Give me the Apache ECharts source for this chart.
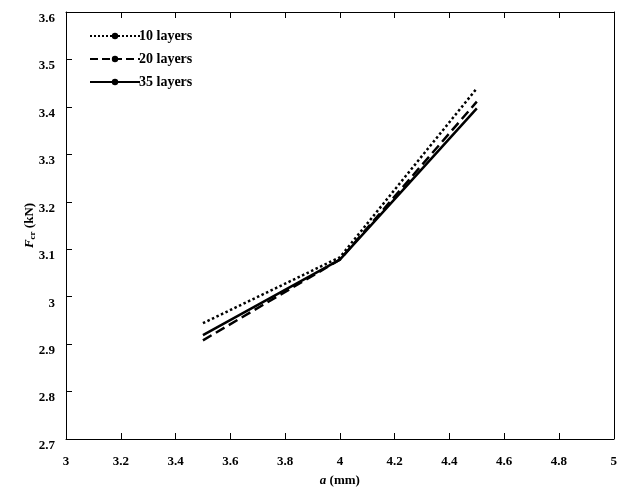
<!DOCTYPE html>
<html><head><meta charset="utf-8">
<script src="https://cdn.jsdelivr.net/npm/echarts@6/dist/echarts.min.js"></script>
<style>html,body{margin:0;padding:0;background:#fff}#c{width:620px;height:492px}</style>
</head><body><div id="c"></div>
<script>
const xValues = [3.5, 4, 4.5];
const s10 = [2.944, 3.083, 3.439];
const s20 = [2.908, 3.078, 3.411];
const s35 = [2.919, 3.078, 3.397];
const seriesNames = ['10 layers', '20 layers', '35 layers'];
const lineTypes = ['dotted', 'dashed', 'solid'];
const allSeries = [s10, s20, s35];

const font = '"Liberation Serif","Times New Roman",serif';
const chart = echarts.init(document.getElementById('c'), null, {renderer: 'canvas'});
const axisLine = {show: true, lineStyle: {color: '#000', width: 1}};
chart.setOption({
  animation: false,
  backgroundColor: '#fff',
  grid: {left: 66, right: 5, top: 12, bottom: 51},
  legend: {
    left: 84, top: 24, orient: 'vertical', itemGap: 9, itemWidth: 50, itemHeight: 8,
    textStyle: {fontFamily: font, fontWeight: 'bold', fontSize: 14, color: '#000', padding: [0,0,0,-6]},
    data: seriesNames
  },
  xAxis: [{
    type: 'value', min: 3, max: 5, interval: 0.2,
    axisLine: axisLine, splitLine: {show: false},
    axisTick: {inside: true, length: 6, lineStyle: {color: '#000'}},
    axisLabel: {fontFamily: font, fontWeight: 'bold', fontSize: 13, color: '#000', margin: 16,
      formatter: v => +v.toFixed(1) + ''},
    name: '{i|a} (mm)', nameLocation: 'middle', nameGap: 35, nameMoveOverlap: false,
    nameTextStyle: {fontFamily: font, fontWeight: 'bold', fontSize: 13, color: '#000',
      rich: {i: {fontFamily: font, fontStyle: 'italic', fontWeight: 'bold', fontSize: 13, color: '#000'}}}
  }, {
    type: 'value', position: 'top', min: 3, max: 5, interval: 0.2,
    axisLine: axisLine, splitLine: {show: false},
    axisTick: {inside: true, length: 6, lineStyle: {color: '#000'}},
    axisLabel: {show: false}
  }],
  yAxis: [{
    type: 'value', min: 2.7, max: 3.6, interval: 0.1,
    axisLine: axisLine, splitLine: {show: false},
    axisTick: {inside: true, length: 6, lineStyle: {color: '#000'}},
    axisLabel: {fontFamily: font, fontWeight: 'bold', fontSize: 13, color: '#000', margin: 11,
      verticalAlign: 'top', formatter: v => +v.toFixed(1) + ''},
    name: '{i|F}{s|cr} (kN)', nameLocation: 'middle', nameGap: 36, nameRotate: 90, nameMoveOverlap: false,
    nameTextStyle: {fontFamily: font, fontWeight: 'bold', fontSize: 13, color: '#000',
      align: 'center', verticalAlign: 'middle',
      rich: {i: {fontFamily: font, fontStyle: 'italic', fontWeight: 'bold', fontSize: 13, color: '#000'},
             s: {fontFamily: font, fontWeight: 'bold', fontSize: 9, color: '#000', padding: [5,0,0,0]}}}
  }, {
    type: 'value', position: 'right', min: 2.7, max: 3.6, interval: 0.1,
    axisLine: axisLine, splitLine: {show: false},
    axisTick: {show: false},
    axisLabel: {show: false}
  }],
  series: allSeries.map((arr, k) => ({
    name: seriesNames[k], type: 'line',
    data: xValues.map((x, i) => [x, arr[i]]),
    symbol: 'circle', symbolSize: 7, showSymbol: false,
    itemStyle: {color: '#000'},
    lineStyle: {color: '#000', width: 2.5, type: lineTypes[k]}
  }))
});
</script></body></html>
